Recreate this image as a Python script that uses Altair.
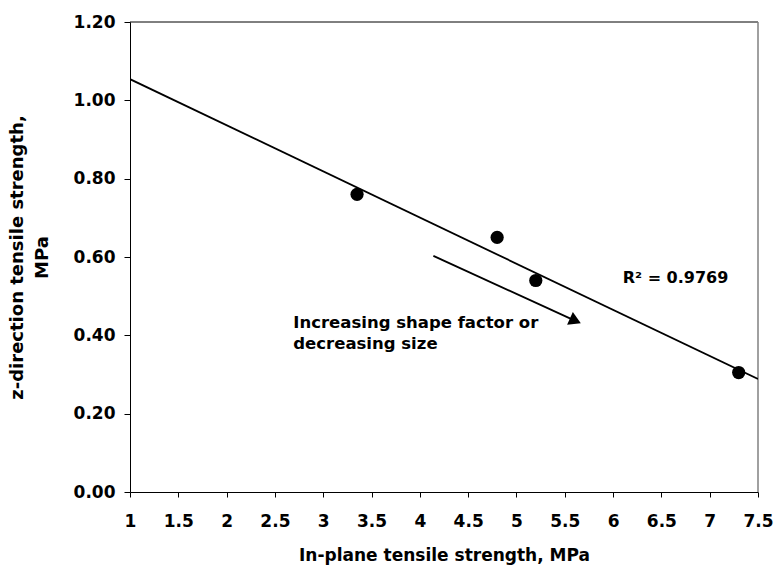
import altair as alt
import pandas as pd

# Measured strengths (MPa)
in_plane = [3.35, 4.8, 5.2, 7.3]
z_direction = [0.76, 0.65, 0.54, 0.305]

# Axis ticks
x_ticks = [1, 1.5, 2, 2.5, 3, 3.5, 4, 4.5, 5, 5.5, 6, 6.5, 7, 7.5]
y_ticks = [0.0, 0.2, 0.4, 0.6, 0.8, 1.0, 1.2]

# Trend annotation arrow (data coordinates): tail and head
arrow_x = [4.14, 5.61]
arrow_y = [0.603, 0.437]

note_lines = ["Increasing shape factor or", "decreasing size"]
note_x = [2.69]
note_y = [0.419]

r2_text = ["R\u00b2 = 0.9769"]
r2_x = [6.10]
r2_y = [0.533]

FONT = "DejaVu Sans"
W, H = 628, 470

points = pd.DataFrame({"x": in_plane, "y": z_direction})

xscale = alt.Scale(domain=[1, 7.5], nice=False, zero=False)
yscale = alt.Scale(domain=[0, 1.2], nice=False, zero=False)

x_axis = alt.Axis(
    values=x_ticks, format=".1~f", title="In-plane tensile strength, MPa",
    tickSize=5, labelPadding=16, labelFontSize=17, titleFontSize=17,
    titleY=55, titleBaseline="top", labelFlush=False,
)
y_axis = alt.Axis(
    values=y_ticks, format=".2f", title=["z-direction tensile strength,", "MPa"],
    tickSize=6, labelPadding=9, labelFontSize=17, titleFontSize=18,
    titleX=-122, titleY=H / 2, titleBaseline="top", titleLineHeight=25,
    titleAlign="center", labelFlush=False,
)

base = alt.Chart(points)

trend = base.transform_regression(
    "x", "y", method="linear", extent=[1, 7.5]
).mark_line(color="black", strokeWidth=1.8, clip=True).encode(
    x=alt.X("x:Q", scale=xscale, axis=x_axis),
    y=alt.Y("y:Q", scale=yscale, axis=y_axis),
)

dots = base.mark_circle(size=175, color="black", opacity=1).encode(
    x=alt.X("x:Q", scale=xscale),
    y=alt.Y("y:Q", scale=yscale),
)

arrow_df = pd.DataFrame({"x": [arrow_x[0]], "y": [arrow_y[0]],
                         "x2": [arrow_x[1]], "y2": [arrow_y[1]]})
arrow_line = alt.Chart(arrow_df).mark_rule(color="black", strokeWidth=1.8).encode(
    x="x:Q", y="y:Q", x2="x2:Q", y2="y2:Q"
)
head_df = pd.DataFrame({"x": [arrow_x[1]], "y": [arrow_y[1]]})
arrow_head = alt.Chart(head_df).mark_point(
    shape="triangle-right", filled=True, color="black", opacity=1,
    size=190, angle=24.5,
).encode(x="x:Q", y="y:Q")

note_df = pd.DataFrame({"x": note_x, "y": note_y, "t": [note_lines]})
note = alt.Chart(note_df).mark_text(
    align="left", baseline="alphabetic", font=FONT, fontWeight="bold",
    fontSize=16.5, lineHeight=21, color="black",
).encode(x="x:Q", y="y:Q", text="t")

r2_df = pd.DataFrame({"x": r2_x, "y": r2_y, "t": r2_text})
r2 = alt.Chart(r2_df).mark_text(
    align="left", baseline="alphabetic", font=FONT, fontWeight="bold",
    fontSize=16, color="black",
).encode(x="x:Q", y="y:Q", text="t:N")

# Plot-area frame: black top edge, grey right edge
blank = alt.Data(values=[{}])
top_edge = alt.Chart(blank).mark_rule(color="black", strokeWidth=1).encode(
    x=alt.value(0), x2=alt.value(W), y=alt.value(0)
)
right_edge = alt.Chart(blank).mark_rule(color="#808080", strokeWidth=1.5).encode(
    x=alt.value(W), y=alt.value(0), y2=alt.value(H)
)

chart = alt.layer(
    top_edge, right_edge, trend, arrow_line, arrow_head, dots, note, r2
).properties(
    width=W, height=H,
    padding={"left": 130, "top": 22, "right": 16, "bottom": 78},
    autosize="none",
    background="white",
).configure_view(
    stroke=None
).configure_axis(
    grid=False, domainColor="black", domainWidth=1, tickColor="black",
    tickWidth=1, labelColor="black", titleColor="black",
    labelFont=FONT, titleFont=FONT, labelFontWeight="bold",
    titleFontWeight="bold",
)

chart.save("out.html", embed_options={"renderer": "svg", "actions": False})
